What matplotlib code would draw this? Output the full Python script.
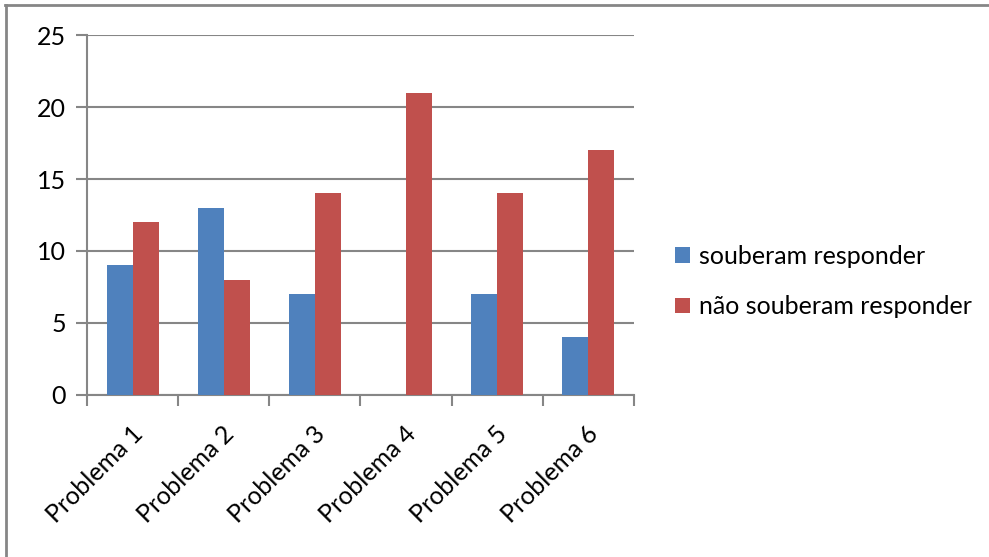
import matplotlib.pyplot as plt
from matplotlib.lines import Line2D
import numpy as np

plt.rcParams['font.family'] = ['Lato', 'DejaVu Sans']

categorias = ["Problema 1", "Problema 2", "Problema 3", "Problema 4", "Problema 5", "Problema 6"]
souberam = [9, 13, 7, 0, 7, 4]
nao_souberam = [12, 8, 14, 21, 14, 17]
series_nomes = ["souberam responder", "não souberam responder"]

azul = "#4F81BD"
vermelho = "#C0504D"
cinza = "#868686"
fs = 18

fig = plt.figure(figsize=(9.89, 5.57), dpi=100)
ax = fig.add_axes([0.088, 0.291, 0.553, 0.646])

x = np.arange(len(categorias))
w = 0.285
ax.bar(x - w / 2, souberam, w, color=azul, label=series_nomes[0], zorder=3)
ax.bar(x + w / 2, nao_souberam, w, color=vermelho, label=series_nomes[1], zorder=3)

ax.set_xlim(-0.5, len(categorias) - 0.5)
ax.set_ylim(0, 25)
ax.set_yticks(range(0, 26, 5))
ax.yaxis.grid(True, color=cinza, linewidth=1.5, zorder=0)

# category boundaries carry the tick marks, labels sit at the centres
ax.set_xticks(np.arange(-0.5, len(categorias)))
ax.set_xticklabels([])
ax.tick_params(axis='x', length=8, width=1.5, color=cinza, direction='out')
ax.tick_params(axis='y', length=8, width=1.5, color=cinza, labelsize=fs, pad=7)
for i, nome in enumerate(categorias):
    ax.text(i + 0.07, -2.45, nome, rotation=45, rotation_mode='anchor',
            ha='right', va='center', fontsize=fs)

for lado in ['top', 'right']:
    ax.spines[lado].set_visible(False)
for lado in ['left', 'bottom']:
    ax.spines[lado].set_color(cinza)
    ax.spines[lado].set_linewidth(1.5)

ax.legend(loc='center left', bbox_to_anchor=(1.075, 0.315), frameon=False,
          fontsize=fs, handlelength=0.6, handleheight=0.6, handletextpad=0.35,
          labelspacing=1.1, borderpad=0, borderaxespad=0)

# outer frame lines (top and left)
fig.add_artist(Line2D([0.005, 1.0], [0.991, 0.991], color=cinza, linewidth=2, transform=fig.transFigure))
fig.add_artist(Line2D([0.006, 0.006], [0.0, 0.991], color=cinza, linewidth=2, transform=fig.transFigure))

fig.savefig("out.png", dpi=100)
